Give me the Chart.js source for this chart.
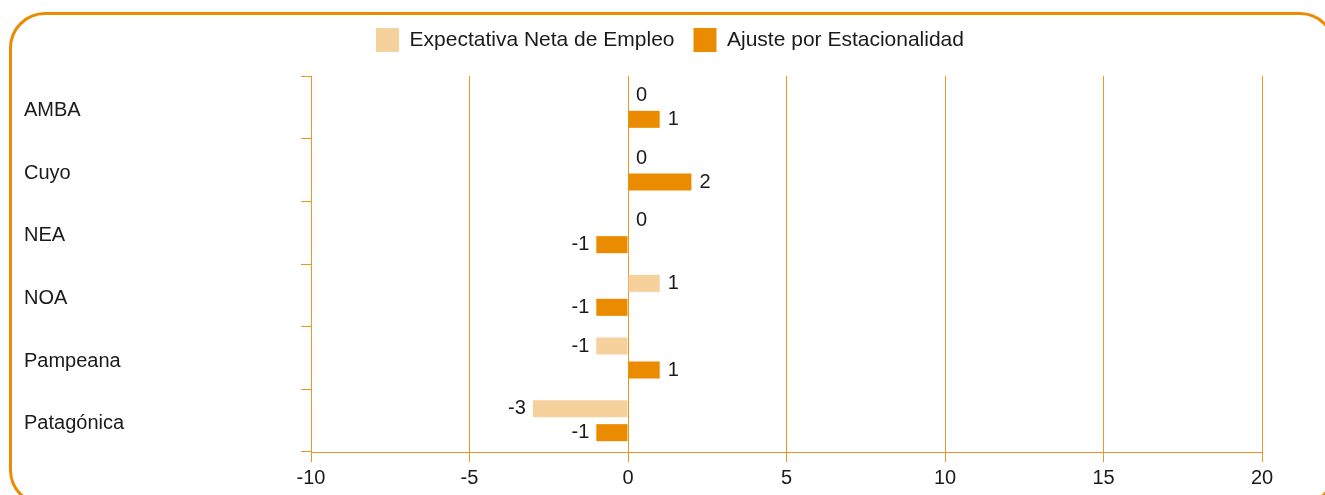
<!DOCTYPE html>
<html>
<head>
<meta charset="utf-8">
<script src="https://cdn.jsdelivr.net/npm/chart.js@4/dist/chart.umd.min.js"></script>
<style>
  html, body { margin: 0; padding: 0; background: #fff; overflow: hidden; }
  #wrap { position: relative; width: 1325px; height: 495px; overflow: hidden; }
  #marco {
    position: absolute; left: 9px; top: 12px; width: 1321px; height: 488px;
    border: 3px solid #EB8C00; border-radius: 36px; pointer-events: none;
  }
</style>
</head>
<body>
<div id="wrap">
  <canvas id="chartRegiones" width="1325" height="495"></canvas>
  <div id="marco"></div>
</div>
<script>
// Datos
const regiones = ['AMBA', 'Cuyo', 'NEA', 'NOA', 'Pampeana', 'Patagónica'];
const expectativaNeta = [0, 0, 0, 1, -1, -3];
const ajusteEstacional = [1, 2, -1, -1, 1, -1];
const ticksX = [-10, -5, 0, 5, 10, 15, 20];

const naranja = '#EB8C00';
const naranjaClaro = '#F7D19B';
const lineaGrid = '#EE9622';
const texto = '#1a1a1a';
const fuente = "'Liberation Sans', Arial, Helvetica, sans-serif";

Chart.defaults.font.family = fuente;
Chart.defaults.font.size = 20;
Chart.defaults.color = texto;

// margen extra bajo la leyenda y leyenda centrada en todo el ancho
const margenLeyenda = {
  id: 'margenLeyenda',
  beforeInit(chart) {
    const fitOrig = chart.legend.fit;
    chart.legend.fit = function () {
      fitOrig.bind(chart.legend)();
      this.height += 14;
    };
  },
  afterLayout(chart) {
    chart.legend.left += 27;
    chart.legend.right += 27;
  }
};

// etiquetas de valor al final de cada barra
const etiquetas = {
  id: 'etiquetas',
  afterDatasetsDraw(chart) {
    const ctx = chart.ctx;
    ctx.save();
    ctx.font = '20px ' + fuente;
    ctx.fillStyle = texto;
    ctx.textBaseline = 'middle';
    chart.data.datasets.forEach((ds, i) => {
      chart.getDatasetMeta(i).data.forEach((bar, j) => {
        const v = ds.data[j];
        if (v < 0) {
          ctx.textAlign = 'right';
          ctx.fillText(String(v), bar.x - 7, bar.y);
        } else {
          ctx.textAlign = 'left';
          ctx.fillText(String(v), bar.x + 8, bar.y);
        }
      });
    });
    ctx.restore();
  }
};

const ctx = document.getElementById('chartRegiones').getContext('2d');
const grafico = new Chart(ctx, {
  type: 'bar',
  data: {
    labels: regiones,
    datasets: [
      {
        label: 'Expectativa Neta de Empleo',
        data: expectativaNeta,
        backgroundColor: naranjaClaro,
        borderWidth: 0,
        categoryPercentage: 0.766,
        barPercentage: 0.71
      },
      {
        label: 'Ajuste por Estacionalidad',
        data: ajusteEstacional,
        backgroundColor: naranja,
        borderWidth: 0,
        categoryPercentage: 0.766,
        barPercentage: 0.71
      }
    ]
  },
  options: {
    indexAxis: 'y',
    responsive: false,
    animation: false,
    layout: { padding: { top: 9, left: 24, right: 63, bottom: 0 } },
    plugins: {
      legend: {
        position: 'top',
        labels: { boxWidth: 23, boxHeight: 24, padding: 19, color: texto, font: { size: 21 } }
      },
      tooltip: { enabled: false }
    },
    scales: {
      x: {
        min: ticksX[0],
        max: ticksX[ticksX.length - 1],
        afterBuildTicks(scale) { scale.ticks = ticksX.map(v => ({ value: v })); },
        afterFit(scale) { scale.height = 43; },
        grid: { color: lineaGrid, tickLength: 10, lineWidth: 1 },
        border: { color: lineaGrid, width: 1 },
        ticks: { padding: 4, color: texto, font: { size: 20 } }
      },
      y: {
        afterFit(scale) { scale.width = 287; },
        grid: { color: lineaGrid, drawOnChartArea: false, tickLength: 10, offset: true },
        border: { color: lineaGrid, width: 1 },
        ticks: { crossAlign: 'far', labelOffset: 3, color: texto, font: { size: 20 } }
      }
    }
  },
  plugins: [margenLeyenda, etiquetas]
});
</script>
</body>
</html>
